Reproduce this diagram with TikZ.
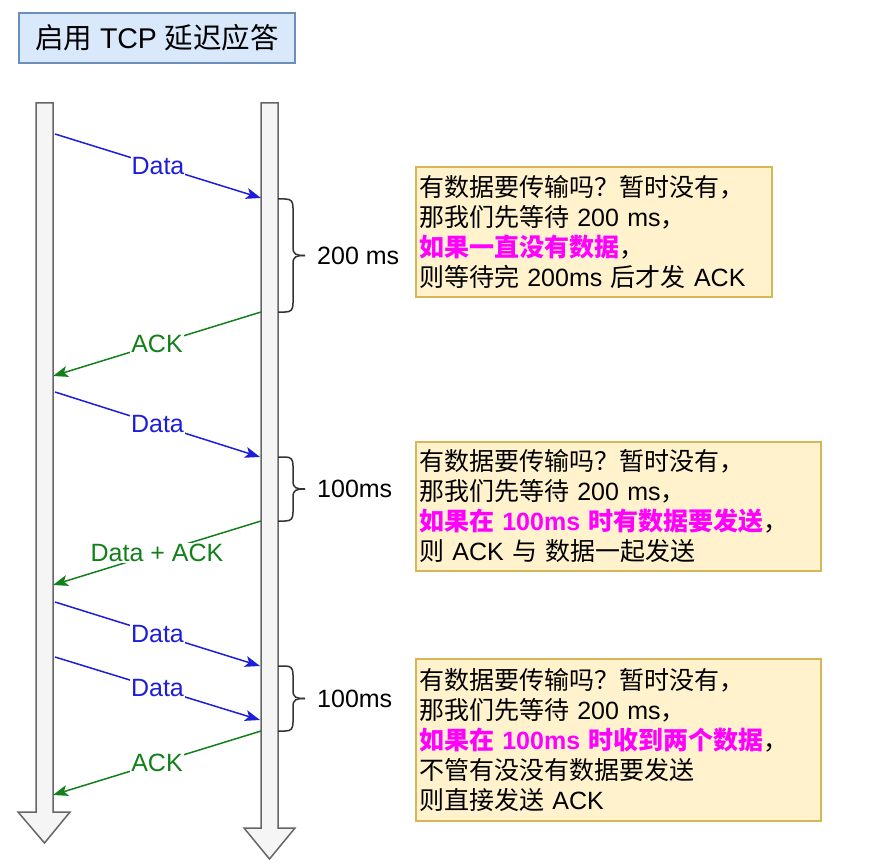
\documentclass[tikz,border=0pt]{standalone}
\usepackage{fontspec}
\setmainfont{Liberation Sans}
\newfontfamily\cjk{Noto Sans CJK SC}
\usetikzlibrary{arrows.meta}
\definecolor{dblue}{HTML}{1E1ED8}
\definecolor{dgreen}{HTML}{12801A}
\definecolor{notefill}{HTML}{FFF2CC}
\definecolor{noteborder}{HTML}{D6B656}
\definecolor{titlefill}{HTML}{DAE8FC}
\definecolor{titleborder}{HTML}{6C8EBF}
\definecolor{hilite}{HTML}{FF00FF}
\newcommand{\C}[1]{{\cjk #1}}
\newcommand{\HL}[1]{{\color{hilite}\bfseries #1}}
\begin{document}
\begin{tikzpicture}[x=1pt,y=-1pt,
  lifeline/.style={draw=black!60, fill=black!4, line width=1.5pt, line join=miter},
  msg/.style={line width=1.5pt, -{Stealth[length=15pt,width=11pt,inset=3.5pt]}},
  datamsg/.style={msg, draw=dblue, fill=dblue},
  ackmsg/.style={msg, draw=dgreen, fill=dgreen},
  lbl/.style={fill=white, inner sep=1pt, font=\fontsize{25}{30}\selectfont},
  datalbl/.style={lbl, text=dblue},
  acklbl/.style={lbl, text=dgreen},
  brc/.style={draw=black!80, line width=1.5pt},
  brclbl/.style={anchor=west, inner sep=0pt, font=\fontsize{25}{30}\selectfont},
  note/.style={draw=noteborder, fill=notefill, line width=1.5pt, align=left,
    inner xsep=3pt, inner ysep=2pt, font=\fontsize{25}{30}\selectfont},
  titlebox/.style={draw=titleborder, fill=titlefill, line width=1.5pt,
    minimum width=276pt, minimum height=50pt, font=\fontsize{28.5}{32}\selectfont}
]
\useasboundingbox (0,0) rectangle (879,864);

% title
\node[titlebox] (title) at (157,38) {\C{启用} TCP \C{延迟应答}};

% lifelines
\path[lifeline] (36,103) -- (53,103) -- (53,812) -- (70,812) -- (44.5,843) -- (18,812) -- (36,812) -- cycle;
\path[lifeline] (261,103) -- (278,103) -- (278,828) -- (295,828) -- (269.5,859) -- (244,828) -- (261,828) -- cycle;

% endpoints on lifelines
\coordinate (L1) at (55,134);  \coordinate (R1) at (261,198);
\coordinate (R2) at (261,312); \coordinate (L2) at (53,376);
\coordinate (L3) at (55,392);  \coordinate (R3) at (260,457);
\coordinate (R4) at (261,521); \coordinate (L4) at (53,585);
\coordinate (L5) at (55,602);  \coordinate (R5) at (260,666);
\coordinate (L6) at (55,657);  \coordinate (R6) at (260,720);
\coordinate (R7) at (261,731); \coordinate (L7) at (53,795);

% messages
\draw[datamsg] (L1) -- node[datalbl] (m1) {Data} (R1);
\draw[ackmsg]  (R2) -- node[acklbl]  (m2) {ACK} (L2);
\draw[datamsg] (L3) -- node[datalbl] (m3) {Data} (R3);
\draw[ackmsg]  (R4) -- node[acklbl]  (m4) {Data + ACK} (L4);
\draw[datamsg] (L5) -- node[datalbl] (m5) {Data} (R5);
\draw[datamsg] (L6) -- node[datalbl] (m6) {Data} (R6);
\draw[ackmsg]  (R7) -- node[acklbl]  (m7) {ACK} (L7);

% braces
\foreach \ya/\yb/\nm/\txt in {199/312/b1/200 ms, 457/521/b2/100ms, 666/731/b3/100ms}{
  \pgfmathsetmacro{\ym}{(\ya+\yb)/2}
  \draw[brc] (278,\ya) -- (285,\ya) .. controls (291,\ya) and (293,\ya+2) .. (293,\ya+9)
     -- (293,\ym-8) .. controls (293,\ym-1) and (296,\ym) .. (305,\ym);
  \draw[brc] (305,\ym) .. controls (296,\ym) and (293,\ym+1) .. (293,\ym+8)
     -- (293,\yb-9) .. controls (293,\yb-2) and (291,\yb) .. (285,\yb) -- (278,\yb);
  \node[brclbl] (\nm) at (317,\ym) {\txt};
}

% notes
\node[note, text width=350pt, minimum height=130pt] (n1) at (594,232)
  {\C{有数据要传输吗？暂时没有，}\\
   \C{那我们先等待} 200 ms\C{，}\\
   \HL{\C{如果一直没有数据}}\C{，}\\
   \C{则等待完} 200ms \C{后才发} ACK};
\node[note, text width=399pt, minimum height=129pt] (n2) at (618.5,506.5)
  {\C{有数据要传输吗？暂时没有，}\\
   \C{那我们先等待} 200 ms\C{，}\\
   \HL{\C{如果在} 100ms \C{时有数据要发送}}\C{，}\\
   \C{则} ACK \C{与 数据一起发送}};
\node[note, text width=399pt, minimum height=162pt] (n3) at (618.5,740)
  {\C{有数据要传输吗？暂时没有，}\\
   \C{那我们先等待} 200 ms\C{，}\\
   \HL{\C{如果在} 100ms \C{时收到两个数据}}\C{，}\\
   \C{不管有没没有数据要发送}\\
   \C{则直接发送} ACK};
\end{tikzpicture}
\end{document}
